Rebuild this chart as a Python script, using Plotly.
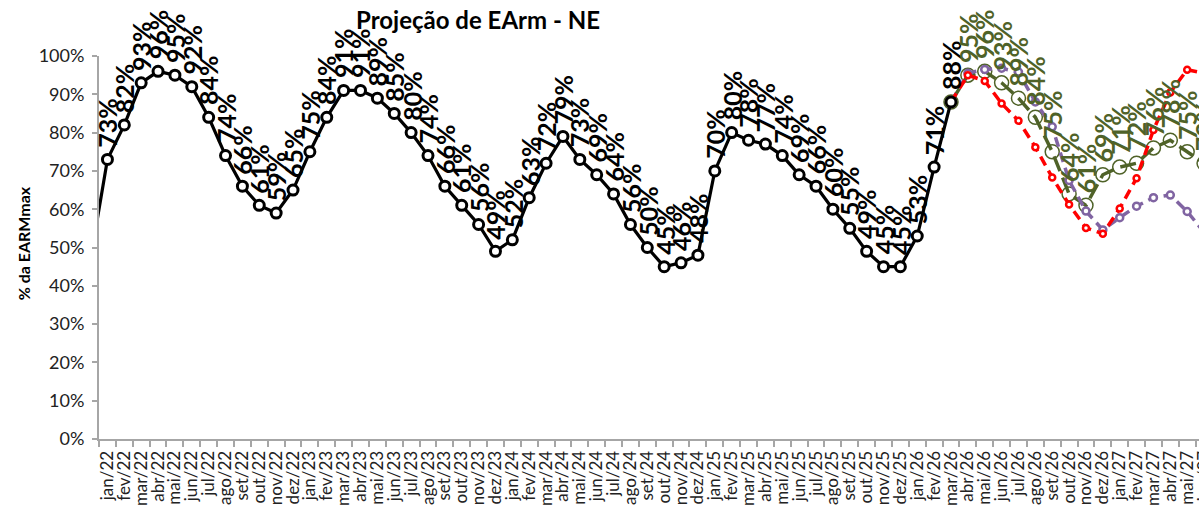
import plotly.graph_objects as go

# Month categories (position 0 = dez/21, only used so the line enters from the left edge)
categorias = [
    "dez/21",
    "jan/22", "fev/22", "mar/22", "abr/22", "mai/22", "jun/22", "jul/22", "ago/22", "set/22", "out/22", "nov/22", "dez/22",
    "jan/23", "fev/23", "mar/23", "abr/23", "mai/23", "jun/23", "jul/23", "ago/23", "set/23", "out/23", "nov/23", "dez/23",
    "jan/24", "fev/24", "mar/24", "abr/24", "mai/24", "jun/24", "jul/24", "ago/24", "set/24", "out/24", "nov/24", "dez/24",
    "jan/25", "fev/25", "mar/25", "abr/25", "mai/25", "jun/25", "jul/25", "ago/25", "set/25", "out/25", "nov/25", "dez/25",
    "jan/26", "fev/26", "mar/26", "abr/26", "mai/26", "jun/26", "jul/26", "ago/26", "set/26", "out/26", "nov/26", "dez/26",
    "jan/27", "fev/27", "mar/27", "abr/27", "mai/27", "jun/27", "jul/27",
]

# Verified stored energy (% of EARMmax), dez/21 .. mar/26
earm_verificado = [
    47,
    73, 82, 93, 96, 95, 92, 84, 74, 66, 61, 59, 65,
    75, 84, 91, 91, 89, 85, 80, 74, 66, 61, 56, 49,
    52, 63, 72, 79, 73, 69, 64, 56, 50, 45, 46, 48,
    70, 80, 78, 77, 74, 69, 66, 60, 55, 49, 45, 45,
    53, 71, 88,
]

# Projections, mar/26 .. jun/27
proj_verde = [88, 95, 96, 93, 89, 84, 75, 64, 61, 69, 71, 72, 76, 78, 75, 72]
proj_roxa = [88, 95.5, 96.5, 96.8, 95.8, 88, 81.5, 67.5, 59.5, 54.6, 57.8, 60.8, 63, 63.7, 59.4, 54]
proj_vermelha = [88, 95, 93.5, 87.6, 83.1, 76.2, 68.3, 61.2, 55.1, 53.6, 60.2, 68.1, 80.7, 90.5, 96.4, 95.5]

y_ticks = [0, 10, 20, 30, 40, 50, 60, 70, 80, 90, 100]

FONT = "Lato"
VERDE = "#4F6228"
ROXO = "#8064A2"
VERMELHO = "#FF0000"
EIXO = "#A6A6A6"

x_hist = list(range(len(earm_verificado)))
inicio_proj = len(earm_verificado) - 1
x_proj = list(range(inicio_proj, inicio_proj + len(proj_verde)))

fig = go.Figure()

fig.add_trace(go.Scatter(
    x=x_proj, y=proj_verde, mode="lines+markers", name="Projeção 1",
    line=dict(color=VERDE, width=3.5, dash="16px,7px"),
    marker=dict(symbol="circle-open", size=14, color=VERDE, line=dict(width=1.5)),
))
fig.add_trace(go.Scatter(
    x=x_proj, y=proj_roxa, mode="lines+markers", name="Projeção 2",
    line=dict(color=ROXO, width=3.5, dash="10px,6px"),
    marker=dict(symbol="circle", size=7, color="white", line=dict(color=ROXO, width=2.5)),
))
fig.add_trace(go.Scatter(
    x=x_proj, y=proj_vermelha, mode="lines+markers", name="Projeção 3",
    line=dict(color=VERMELHO, width=3.5, dash="10px,6px"),
    marker=dict(symbol="circle", size=6, color="white", line=dict(color=VERMELHO, width=2.5)),
))
fig.add_trace(go.Scatter(
    x=x_hist, y=earm_verificado, mode="lines+markers", name="Verificado",
    line=dict(color="black", width=3.2),
    marker=dict(symbol="circle", size=10, color="white", line=dict(color="black", width=3)),
))

anotacoes = []


def rotulos(xs, ys, cor, pular_primeiro):
    for k, (xv, yv) in enumerate(zip(xs, ys)):
        if pular_primeiro and k == 0:
            continue
        anotacoes.append(dict(
            x=xv, y=yv, xref="x", yref="y", text=f"<b>{yv:.0f}%</b>", showarrow=False,
            textangle=-90, xanchor="center", yanchor="bottom", yshift=10,
            font=dict(family=FONT, size=25, color=cor),
        ))


rotulos(x_hist, earm_verificado, "black", True)
rotulos(x_proj, proj_verde, VERDE, True)

anotacoes.append(dict(
    x=-0.066, y=0.51, xref="paper", yref="paper", text="<b>% da EARMmax</b>",
    showarrow=False, textangle=-90, xanchor="center", yanchor="middle",
    font=dict(family=FONT, size=16, color="black"),
))

fig.update_layout(
    width=1240, height=506,
    margin=dict(l=99, r=0, t=56, b=67),
    paper_bgcolor="white", plot_bgcolor="white",
    showlegend=False,
    title=dict(text="<b>Projeção de EArm - NE</b>", x=0.3855, xref="container",
               y=0.96, yref="container", xanchor="center", yanchor="middle",
               font=dict(family=FONT, size=24, color="black")),
    annotations=anotacoes,
    xaxis=dict(
        range=[0.5, 68.13], tickmode="array",
        tickvals=list(range(len(categorias))), ticktext=categorias,
        tickangle=-90, ticks="", showgrid=False, zeroline=False,
        showline=True, linecolor=EIXO, linewidth=2,
        tickfont=dict(family=FONT, size=17, color="#222222"),
        minor=dict(tickmode="linear", tick0=0.5, dtick=1, ticks="outside",
                   ticklen=6, tickcolor=EIXO, tickwidth=1.5, showgrid=False),
        ticklabelstandoff=3,
    ),
    yaxis=dict(
        range=[0, 100], tickmode="array", tickvals=y_ticks,
        ticktext=[f"{v}%" for v in y_ticks],
        ticks="outside", ticklen=5, tickcolor=EIXO, tickwidth=1.5,
        showline=True, linecolor=EIXO, linewidth=2,
        showgrid=False, zeroline=False, ticklabelstandoff=4,
        tickfont=dict(family=FONT, size=18, color="#222222"),
    ),
)

fig.write_html(
    "out.html",
    config={"displayModeBar": False},
    post_script="document.documentElement.style.overflow='hidden';document.body.style.overflow='hidden';",
)
